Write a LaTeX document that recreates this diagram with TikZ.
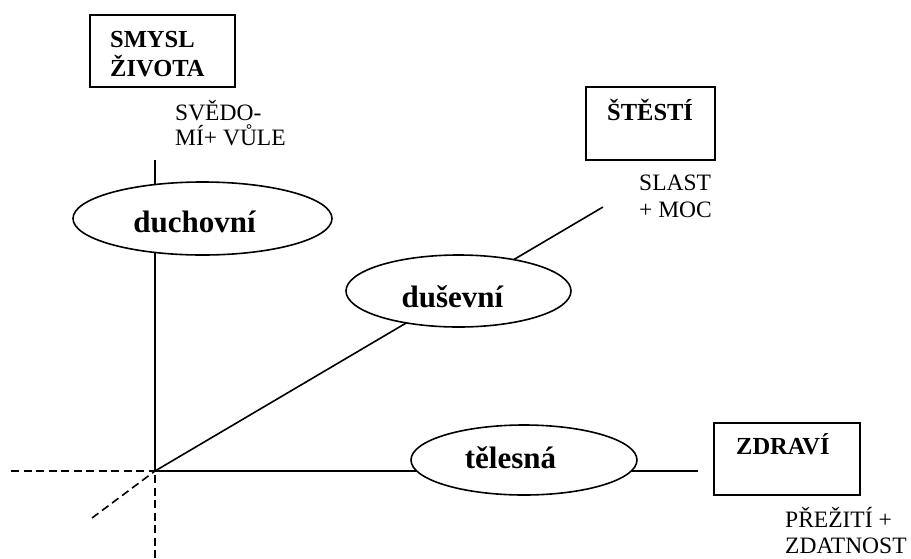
\documentclass[tikz,border=0pt]{standalone}
\usepackage{fontspec}
\setmainfont{Liberation Serif}
\usetikzlibrary{shapes.geometric}
\begin{document}
\begin{tikzpicture}[x=1pt,y=-1pt,
  axis/.style={line width=1.6pt},
  guide/.style={line width=1.6pt, dash pattern=on 8pt off 4.5pt},
  sphere/.style={draw, ellipse, line width=1.6pt, fill=white, inner sep=0pt},
  goalbox/.style={draw, rectangle, line width=1.6pt, inner sep=0pt},
  goaltext/.style={anchor=base west, inner sep=0pt, font=\bfseries\fontsize{24.5}{29}\selectfont},
  sphtext/.style={anchor=base, inner sep=0pt, font=\bfseries\fontsize{31}{36}\selectfont},
  note/.style={anchor=base west, inner sep=0pt, font=\fontsize{23.5}{27}\selectfont}]
\useasboundingbox (0,0) rectangle (911,558);

% axes meeting at the origin
\coordinate (O) at (155,471);
\coordinate (top) at (155,160);
\coordinate (diagend) at (603,207);
\coordinate (hend) at (698,471);
\coordinate (west) at (11,471);
\coordinate (south) at (155,558);
\coordinate (sw) at (92,518);

\draw[axis] (top) -- (O);
\draw[axis] (O) -- (diagend);
\draw[axis] (O) -- (hend);
\draw[guide] (west) -- (O);
\draw[guide] (south) -- (O);
\draw[guide] (sw) -- (O);

% the three spheres
\node[sphere, minimum width=259pt, minimum height=73pt] (duch) at (202.5,218.5) {};
\node[sphere, minimum width=225pt, minimum height=72pt] (dus) at (458.5,291) {};
\node[sphere, minimum width=226pt, minimum height=70pt] (tel) at (524,460) {};
\node[sphtext] (duchtxt) at (194.5,232) {duchovní};
\node[sphtext] (dustxt) at (452.5,307) {duševní};
\node[sphtext] (teltxt) at (510.5,468) {tělesná};

% goals
\node[goalbox, minimum width=145pt, minimum height=72pt] (smysl) at (162.5,51) {};
\node[goaltext] (smysl1) at (110,47) {SMYSL};
\node[goaltext] (smysl2) at (110,76) {ŽIVOTA};

\node[goalbox, minimum width=129pt, minimum height=73pt] (stesti) at (650.5,123.5) {};
\node[goaltext] (stestitxt) at (607,120) {ŠTĚSTÍ};

\node[goalbox, minimum width=146pt, minimum height=72pt] (zdravi) at (787,459) {};
\node[goaltext] (zdravitxt) at (736,454) {ZDRAVÍ};

% means
\node[note] (svedo1) at (175,120) {SVĚDO-};
\node[note] (svedo2) at (175,145) {MÍ+ VŮLE};
\node[note] (slast1) at (639,190) {SLAST};
\node[note] (slast2) at (639,217) {+ MOC};
\node[note] (prez1) at (785,527) {PŘEŽITÍ +};
\node[note] (prez2) at (785,553) {ZDATNOST};
\end{tikzpicture}
\end{document}
